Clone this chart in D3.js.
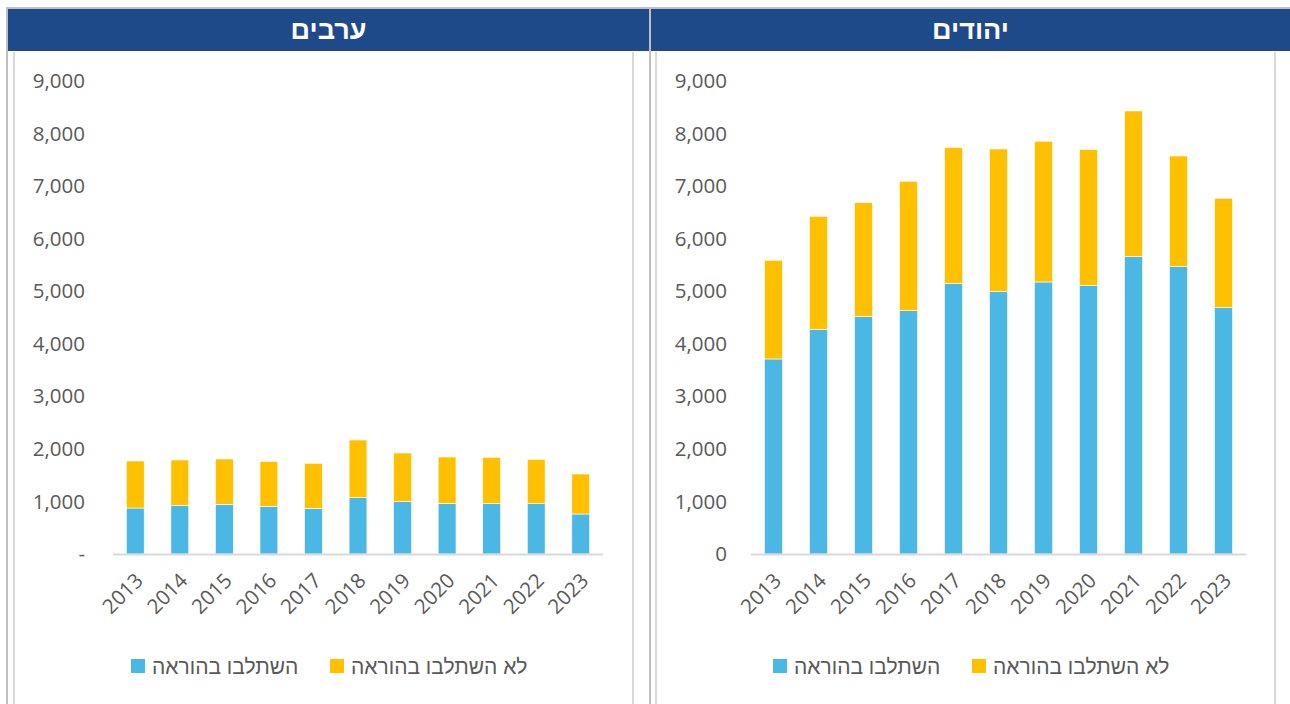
<!DOCTYPE html>
<html><head><meta charset="utf-8">
<script src="https://cdn.jsdelivr.net/npm/d3@7"></script>
<style>
html,body{margin:0;padding:0;background:#fff;}
svg{display:block;}
</style></head>
<body><svg id="c" width="1290" height="704"></svg>
<script>
const years = ["2013","2014","2015","2016","2017","2018","2019","2020","2021","2022","2023"];
const seriesNames = ["השתלבו בהוראה","לא השתלבו בהוראה"];
const colors = ["#4BB7E5","#FFC000"];
// Arabs (left panel)
const arabsIntegrated = [875,920,945,907,869,1072,996,964,958,958,761];
const arabsTotal      = [1770,1789,1808,1757,1726,2169,1922,1846,1840,1802,1522];
// Jews (right panel)
const jewsIntegrated  = [3711,4269,4516,4630,5144,4992,5176,5106,5665,5468,4688];
const jewsTotal       = [5589,6426,6685,7092,7732,7707,7854,7694,8430,7574,6769];
const yTicks = [0,1000,2000,3000,4000,5000,6000,7000,8000,9000];
const titles = ["ערבים","יהודים"];

const svg = d3.select("#c");
const FONT = "'Open Sans','Liberation Sans','DejaVu Sans',sans-serif";

svg.append("rect").attr("x",7).attr("y",7).attr("width",1283).attr("height",2).attr("fill","#c0c0c0");
const panels = [
  {title:titles[0], hx:8, hw:641, box:[14,633], plot:[113,603], labelX:85, zero:"-", integ:arabsIntegrated, total:arabsTotal, legend:131},
  {title:titles[1], hx:651, hw:639, box:[656,1275], plot:[751,1246], labelX:727, zero:"0", integ:jewsIntegrated, total:jewsTotal, legend:773}
];
svg.append("rect").attr("x",6).attr("y",7).attr("width",2).attr("height",697).attr("fill","#c0c0c0");
svg.append("rect").attr("x",649).attr("y",7).attr("width",2).attr("height",697).attr("fill","#c0c0c0");

panels.forEach(p=>{
  svg.append("rect").attr("x",p.hx).attr("y",9).attr("width",p.hw).attr("height",42).attr("fill","#1F4A89");
  svg.append("text").attr("x",p.hx+p.hw/2).attr("y",30).attr("text-anchor","middle")
    .attr("dominant-baseline","central").attr("fill","#fff").attr("font-family","'Liberation Sans','DejaVu Sans',sans-serif")
    .attr("font-weight","bold").attr("font-size",27).text(p.title);
  svg.append("line").attr("x1",p.box[0]).attr("x2",p.box[0]).attr("y1",52).attr("y2",704).attr("stroke","#d9d9d9").attr("stroke-width",2);
  svg.append("line").attr("x1",p.box[1]).attr("x2",p.box[1]).attr("y1",52).attr("y2",704).attr("stroke","#d9d9d9").attr("stroke-width",2);

  const x = d3.scaleBand().domain(years).range(p.plot).paddingInner(0.6).paddingOuter(0.3);
  const y = d3.scaleLinear().domain([0,9000]).range([554,81]);

  const ya = svg.append("g").attr("transform",`translate(${p.labelX},0)`)
    .call(d3.axisLeft(y).tickValues(yTicks).tickSize(0).tickPadding(0)
      .tickFormat(d=> d===0 ? p.zero : d3.format(",")(d)));
  ya.select(".domain").remove();
  ya.selectAll("text").attr("font-family",FONT).attr("font-size",20.5).attr("fill","#595959").attr("font-weight",400);

  const g = svg.append("g");
  g.selectAll(".b0").data(years).join("rect")
    .attr("x",d=>x(d)).attr("width",x.bandwidth())
    .attr("y",(d,i)=>y(p.integ[i])).attr("height",(d,i)=>y(0)-y(p.integ[i]))
    .attr("fill",colors[0]).attr("stroke","#fff").attr("stroke-width",0.6);
  g.selectAll(".b1").data(years).join("rect")
    .attr("x",d=>x(d)).attr("width",x.bandwidth())
    .attr("y",(d,i)=>y(p.total[i])).attr("height",(d,i)=>y(p.integ[i])-y(p.total[i]))
    .attr("fill",colors[1]).attr("stroke","#fff").attr("stroke-width",0.6);

  svg.append("line").attr("x1",p.plot[0]).attr("x2",p.plot[1]).attr("y1",y(0)+0.5).attr("y2",y(0)+0.5)
    .attr("stroke","#d9d9d9").attr("stroke-width",2);

  const xa = svg.append("g").attr("transform",`translate(0,${y(0)})`)
    .call(d3.axisBottom(x).tickSize(0).tickPadding(0));
  xa.select(".domain").remove();
  xa.selectAll("text").attr("font-family",FONT).attr("font-size",20.5).attr("fill","#595959").attr("font-weight",400)
    .attr("text-anchor","end").attr("dy",null).attr("y",0)
    .attr("transform","translate(9,28) rotate(-45)");

  const lg = svg.append("g").attr("transform",`translate(${p.legend},666)`);
  const offs = [0,199];
  seriesNames.forEach((n,i)=>{
    lg.append("rect").attr("x",offs[i]).attr("y",-7).attr("width",14).attr("height",14).attr("fill",colors[i]);
    lg.append("text").attr("x",offs[i]+21).attr("y",0).attr("dominant-baseline","central")
      .attr("text-anchor","start").attr("direction","ltr")
      .attr("font-family","'Liberation Sans','DejaVu Sans',sans-serif").attr("font-size",21).attr("fill","#595959").text(n);
  });
});
</script></body></html>
